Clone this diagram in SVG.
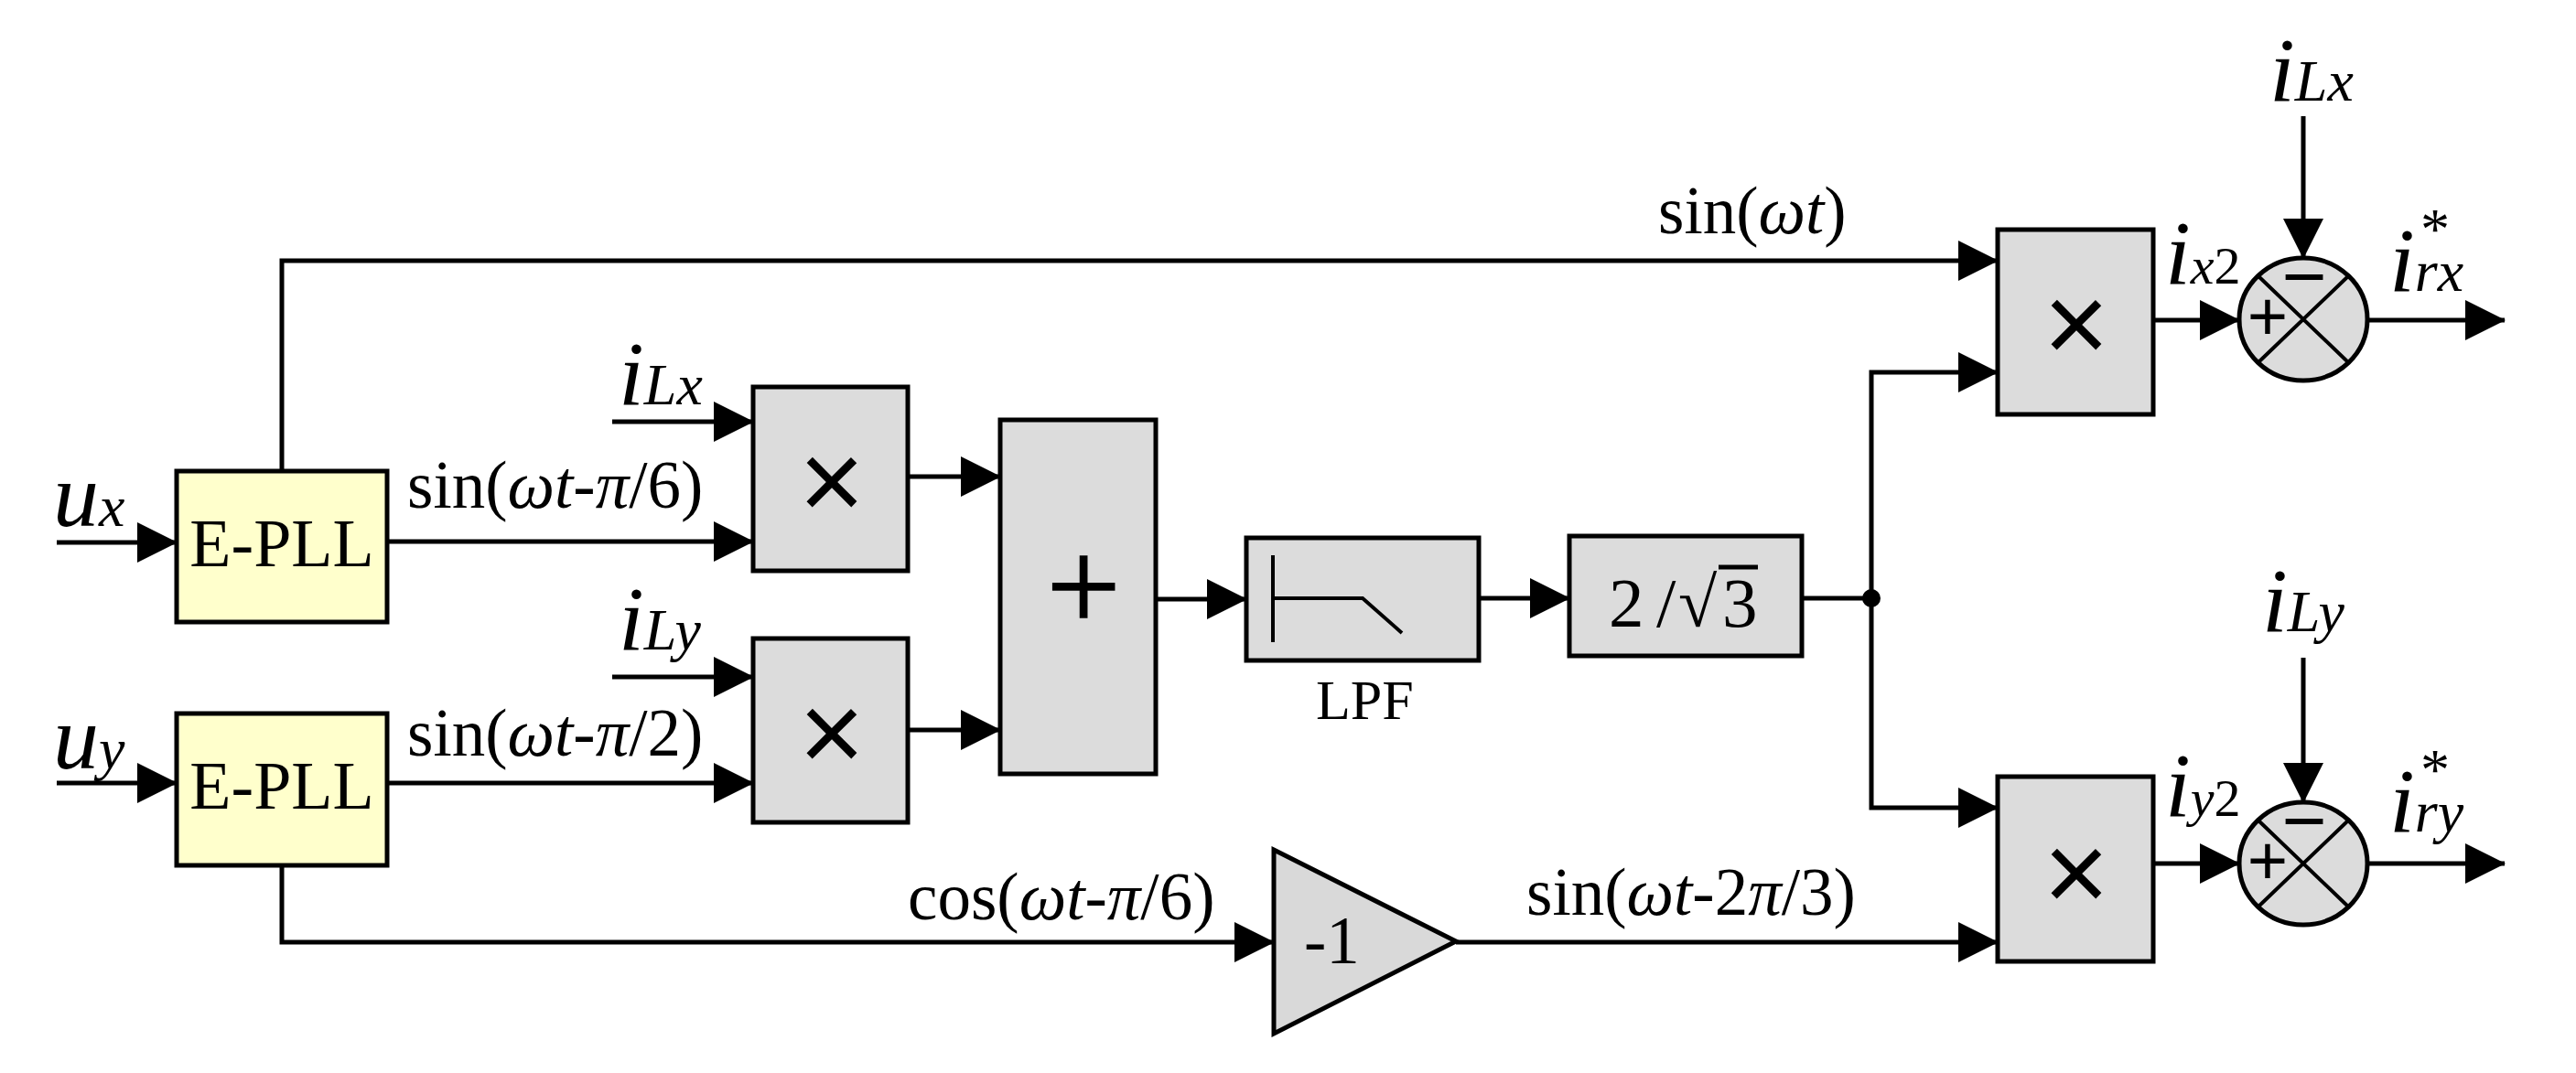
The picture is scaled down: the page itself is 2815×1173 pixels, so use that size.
<svg xmlns="http://www.w3.org/2000/svg" width="2815" height="1173" viewBox="0 0 2815 1173">
<style>
.bx{fill:#DCDCDC;stroke:#000;stroke-width:5}
.pll{fill:#FFFFCC;stroke:#000;stroke-width:5}
.ln{fill:none;stroke:#000;stroke-width:5}
.ar{fill:none;stroke:#000;stroke-width:5;marker-end:url(#ah)}
.t{font-family:"Liberation Serif","Times New Roman",serif;fill:#000}
.it{font-style:italic}
.big{font-size:100px}
.sub{font-size:64px}
.lab{font-size:73px}
.sym{font-family:"Liberation Sans",Arial,sans-serif;fill:#000;text-anchor:middle}
</style>
<defs>
<marker id="ah" markerUnits="userSpaceOnUse" markerWidth="44" markerHeight="44" viewBox="0 0 44 44" refX="43" refY="22" orient="auto"><path d="M0,0 L44,22 L0,44 z" fill="#000"/></marker>
</defs>
<rect width="2815" height="1173" fill="#fff"/>
<g id="connectors">
<path class="ar" d="M62,593 H193"/>
<path class="ar" d="M62,856 H193"/>
<path class="ar" d="M308,515 V285 H2183"/>
<path class="ar" d="M308,946 V1030 H1392"/>
<path class="ar" d="M423,592 H823"/>
<path class="ar" d="M423,856 H823"/>
<path class="ar" d="M669,461 H823"/>
<path class="ar" d="M669,740 H823"/>
<path class="ar" d="M992,521 H1093"/>
<path class="ar" d="M992,798 H1093"/>
<path class="ar" d="M1263,655 H1362"/>
<path class="ar" d="M1616,654 H1715"/>
<path class="ln" d="M1969,654 H2045"/>
<path class="ar" d="M2045,654 V407 H2183"/>
<path class="ar" d="M2045,654 V883 H2183"/>
<path class="ar" d="M1591,1030 H2183"/>
<path class="ar" d="M2353,350 H2447"/>
<path class="ar" d="M2353,944 H2447"/>
<path class="ar" d="M2517,127 V282"/>
<path class="ar" d="M2517,719 V877"/>
<path class="ar" d="M2587,350 H2737"/>
<path class="ar" d="M2587,944 H2737"/>
<circle cx="2045" cy="654" r="10" fill="#000"/>
</g>
<g id="epll1"><rect class="pll" x="193" y="515" width="230" height="165"/><text class="t" x="308" y="619" font-size="74" text-anchor="middle">E-PLL</text></g>
<g id="epll2"><rect class="pll" x="193" y="780" width="230" height="166"/><text class="t" x="308" y="884" font-size="74" text-anchor="middle">E-PLL</text></g>
<g id="mult1"><rect class="bx" x="823" y="423" width="169" height="201"/><text class="sym" x="909" y="568" font-size="123">×</text></g>
<g id="mult2"><rect class="bx" x="823" y="698" width="169" height="201"/><text class="sym" x="909" y="843" font-size="123">×</text></g>
<g id="sum"><rect class="bx" x="1093" y="459" width="170" height="387"/><text class="t" x="1184" y="689" font-size="144" text-anchor="middle" stroke="#000" stroke-width="1.5">+</text></g>
<g id="lpf"><rect class="bx" x="1362" y="588" width="254" height="134"/><path d="M1391,607 V702 M1391,654 H1489 L1532,692" fill="none" stroke="#000" stroke-width="4"/><text class="t" x="1438" y="786" font-size="62">LPF</text></g>
<g id="gain"><rect class="bx" x="1715" y="586" width="254" height="131"/><text class="t" y="685" font-size="77"><tspan x="1758">2</tspan><tspan x="1810">/</tspan><tspan x="1834">√</tspan><tspan x="1882">3</tspan></text><line x1="1878" y1="620" x2="1921" y2="620" stroke="#000" stroke-width="5"/></g>
<g id="neg"><path d="M1392,929 L1591,1029 L1392,1130 Z" fill="#D9D9D9" stroke="#000" stroke-width="5"/><text class="t" x="1425" y="1053" font-size="73">-1</text></g>
<g id="mult3"><rect class="bx" x="2183" y="251" width="170" height="202"/><text class="sym" x="2269" y="396" font-size="123">×</text></g>
<g id="mult4"><rect class="bx" x="2183" y="849" width="170" height="202"/><text class="sym" x="2269" y="996" font-size="123">×</text></g>
<g id="sumx"><ellipse cx="2517" cy="349" rx="70" ry="67" fill="#DCDCDC" stroke="#000" stroke-width="5"/><path d="M2468,302 L2566,396 M2566,302 L2468,396" stroke="#000" stroke-width="4"/><text class="sym" x="2478" y="372" font-size="76">+</text><text class="sym" x="2518" y="331" font-size="84">−</text></g>
<g id="sumy"><ellipse cx="2517" cy="944" rx="70" ry="67" fill="#DCDCDC" stroke="#000" stroke-width="5"/><path d="M2468,897 L2566,991 M2566,897 L2468,991" stroke="#000" stroke-width="4"/><text class="sym" x="2478" y="967" font-size="76">+</text><text class="sym" x="2518" y="926" font-size="84">−</text></g>
<g id="labels">
<text class="t it" x="58" y="575"><tspan class="big">u</tspan><tspan class="sub">x</tspan></text>
<text class="t it" x="58" y="840"><tspan class="big">u</tspan><tspan class="sub">y</tspan></text>
<text class="t it" x="676" y="442"><tspan class="big">i</tspan><tspan class="sub">Lx</tspan></text>
<text class="t it" x="676" y="710"><tspan class="big">i</tspan><tspan class="sub">Ly</tspan></text>
<text class="t lab" x="445" y="555">sin(<tspan class="it">ωt</tspan>-<tspan class="it">π</tspan>/6)</text>
<text class="t lab" x="445" y="826">sin(<tspan class="it">ωt</tspan>-<tspan class="it">π</tspan>/2)</text>
<text class="t lab" x="1812" y="255">sin(<tspan class="it">ωt</tspan>)</text>
<text class="t lab" x="992" y="1005">cos(<tspan class="it">ωt</tspan>-<tspan class="it">π</tspan>/6)</text>
<text class="t lab" x="1668" y="1000">sin(<tspan class="it">ωt</tspan>-2<tspan class="it">π</tspan>/3)</text>
<text class="t it" x="2480" y="110"><tspan class="big">i</tspan><tspan class="sub">Lx</tspan></text>
<text class="t it" x="2472" y="690"><tspan class="big">i</tspan><tspan class="sub">Ly</tspan></text>
<text class="t it" x="2366" y="310"><tspan class="big">i</tspan><tspan font-size="58">x</tspan><tspan font-size="58" font-style="normal">2</tspan></text>
<text class="t it" x="2366" y="892"><tspan class="big">i</tspan><tspan font-size="58">y</tspan><tspan font-size="58" font-style="normal">2</tspan></text>
<text class="t it" x="2611" y="318"><tspan class="big">i</tspan><tspan class="sub" dx="0 0 -50" dy="0 0 -46">rx*</tspan></text>
<text class="t it" x="2611" y="909"><tspan class="big">i</tspan><tspan class="sub" dx="0 0 -50" dy="0 0 -46">ry*</tspan></text>
</g>
</svg>
